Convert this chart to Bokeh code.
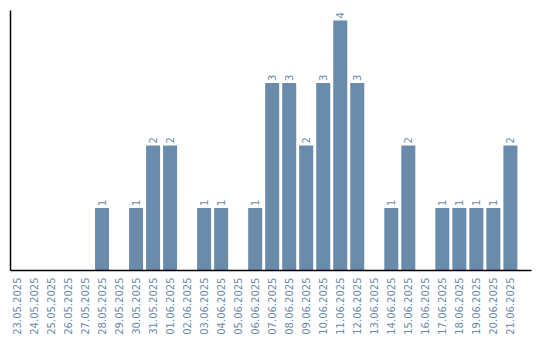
import math
from bokeh.plotting import figure
from bokeh.models import Range1d, FixedTicker, ColumnDataSource
from bokeh.core.properties import value
from bokeh.embed import file_html
from bokeh.resources import INLINE

dates = ["23.05.2025", "24.05.2025", "25.05.2025", "26.05.2025", "27.05.2025",
         "28.05.2025", "29.05.2025", "30.05.2025", "31.05.2025", "01.06.2025",
         "02.06.2025", "03.06.2025", "04.06.2025", "05.06.2025", "06.06.2025",
         "07.06.2025", "08.06.2025", "09.06.2025", "10.06.2025", "11.06.2025",
         "12.06.2025", "13.06.2025", "14.06.2025", "15.06.2025", "16.06.2025",
         "17.06.2025", "18.06.2025", "19.06.2025", "20.06.2025", "21.06.2025"]
counts = [0, 0, 0, 0, 0, 1, 0, 1, 2, 2, 0, 1, 1, 0, 1, 3, 3, 2, 3, 4, 3, 0, 1, 2, 0, 1, 1, 1, 1, 2]

BAR = "#6A8BAA"

idx = list(range(len(dates)))
src = ColumnDataSource(dict(x=idx, top=counts))
lab_x = [i for i, c in zip(idx, counts) if c > 0]
lab_y = [c for c in counts if c > 0]
lab_t = [str(c) for c in counts if c > 0]
lsrc = ColumnDataSource(dict(x=lab_x, y=lab_y, t=lab_t))

p = figure(width=540, height=340, output_backend="svg", toolbar_location=None,
           x_range=Range1d(-0.38, 30.24), y_range=Range1d(0, 4.16),
           min_border_left=10, min_border_right=9, min_border_top=10, min_border_bottom=70)
p.outline_line_color = None
p.xgrid.grid_line_color = None
p.ygrid.grid_line_color = None
p.background_fill_color = "white"
p.border_fill_color = "white"

p.vbar(x="x", top="top", width=14 / 17, source=src, fill_color=BAR, line_color=None)
p.text(x="x", y="y", text="t", source=lsrc, angle=math.pi / 2, text_align="left",
       text_baseline="middle", y_offset=-2, text_color=BAR, text_font_size="10px",
       text_font=value("DejaVu Sans"))

xa = p.xaxis[0]
xa.ticker = FixedTicker(ticks=idx)
xa.major_label_overrides = {i: d for i, d in zip(idx, dates)}
xa.major_label_orientation = math.pi / 2
xa.major_tick_line_color = None
xa.minor_tick_line_color = None
xa.major_tick_out = 0
xa.major_tick_in = 0
xa.major_label_standoff = 7
xa.major_label_text_color = BAR
xa.major_label_text_font = "DejaVu Sans"
xa.major_label_text_font_size = "10px"
xa.axis_line_color = "black"
xa.axis_line_width = 1.5

ya = p.yaxis[0]
ya.ticker = FixedTicker(ticks=[])
ya.major_tick_line_color = None
ya.minor_tick_line_color = None
ya.major_tick_out = 0
ya.major_tick_in = 0
ya.major_label_standoff = 0
ya.axis_line_color = "black"
ya.axis_line_width = 1.5

open("out.html", "w").write(file_html(p, INLINE))
